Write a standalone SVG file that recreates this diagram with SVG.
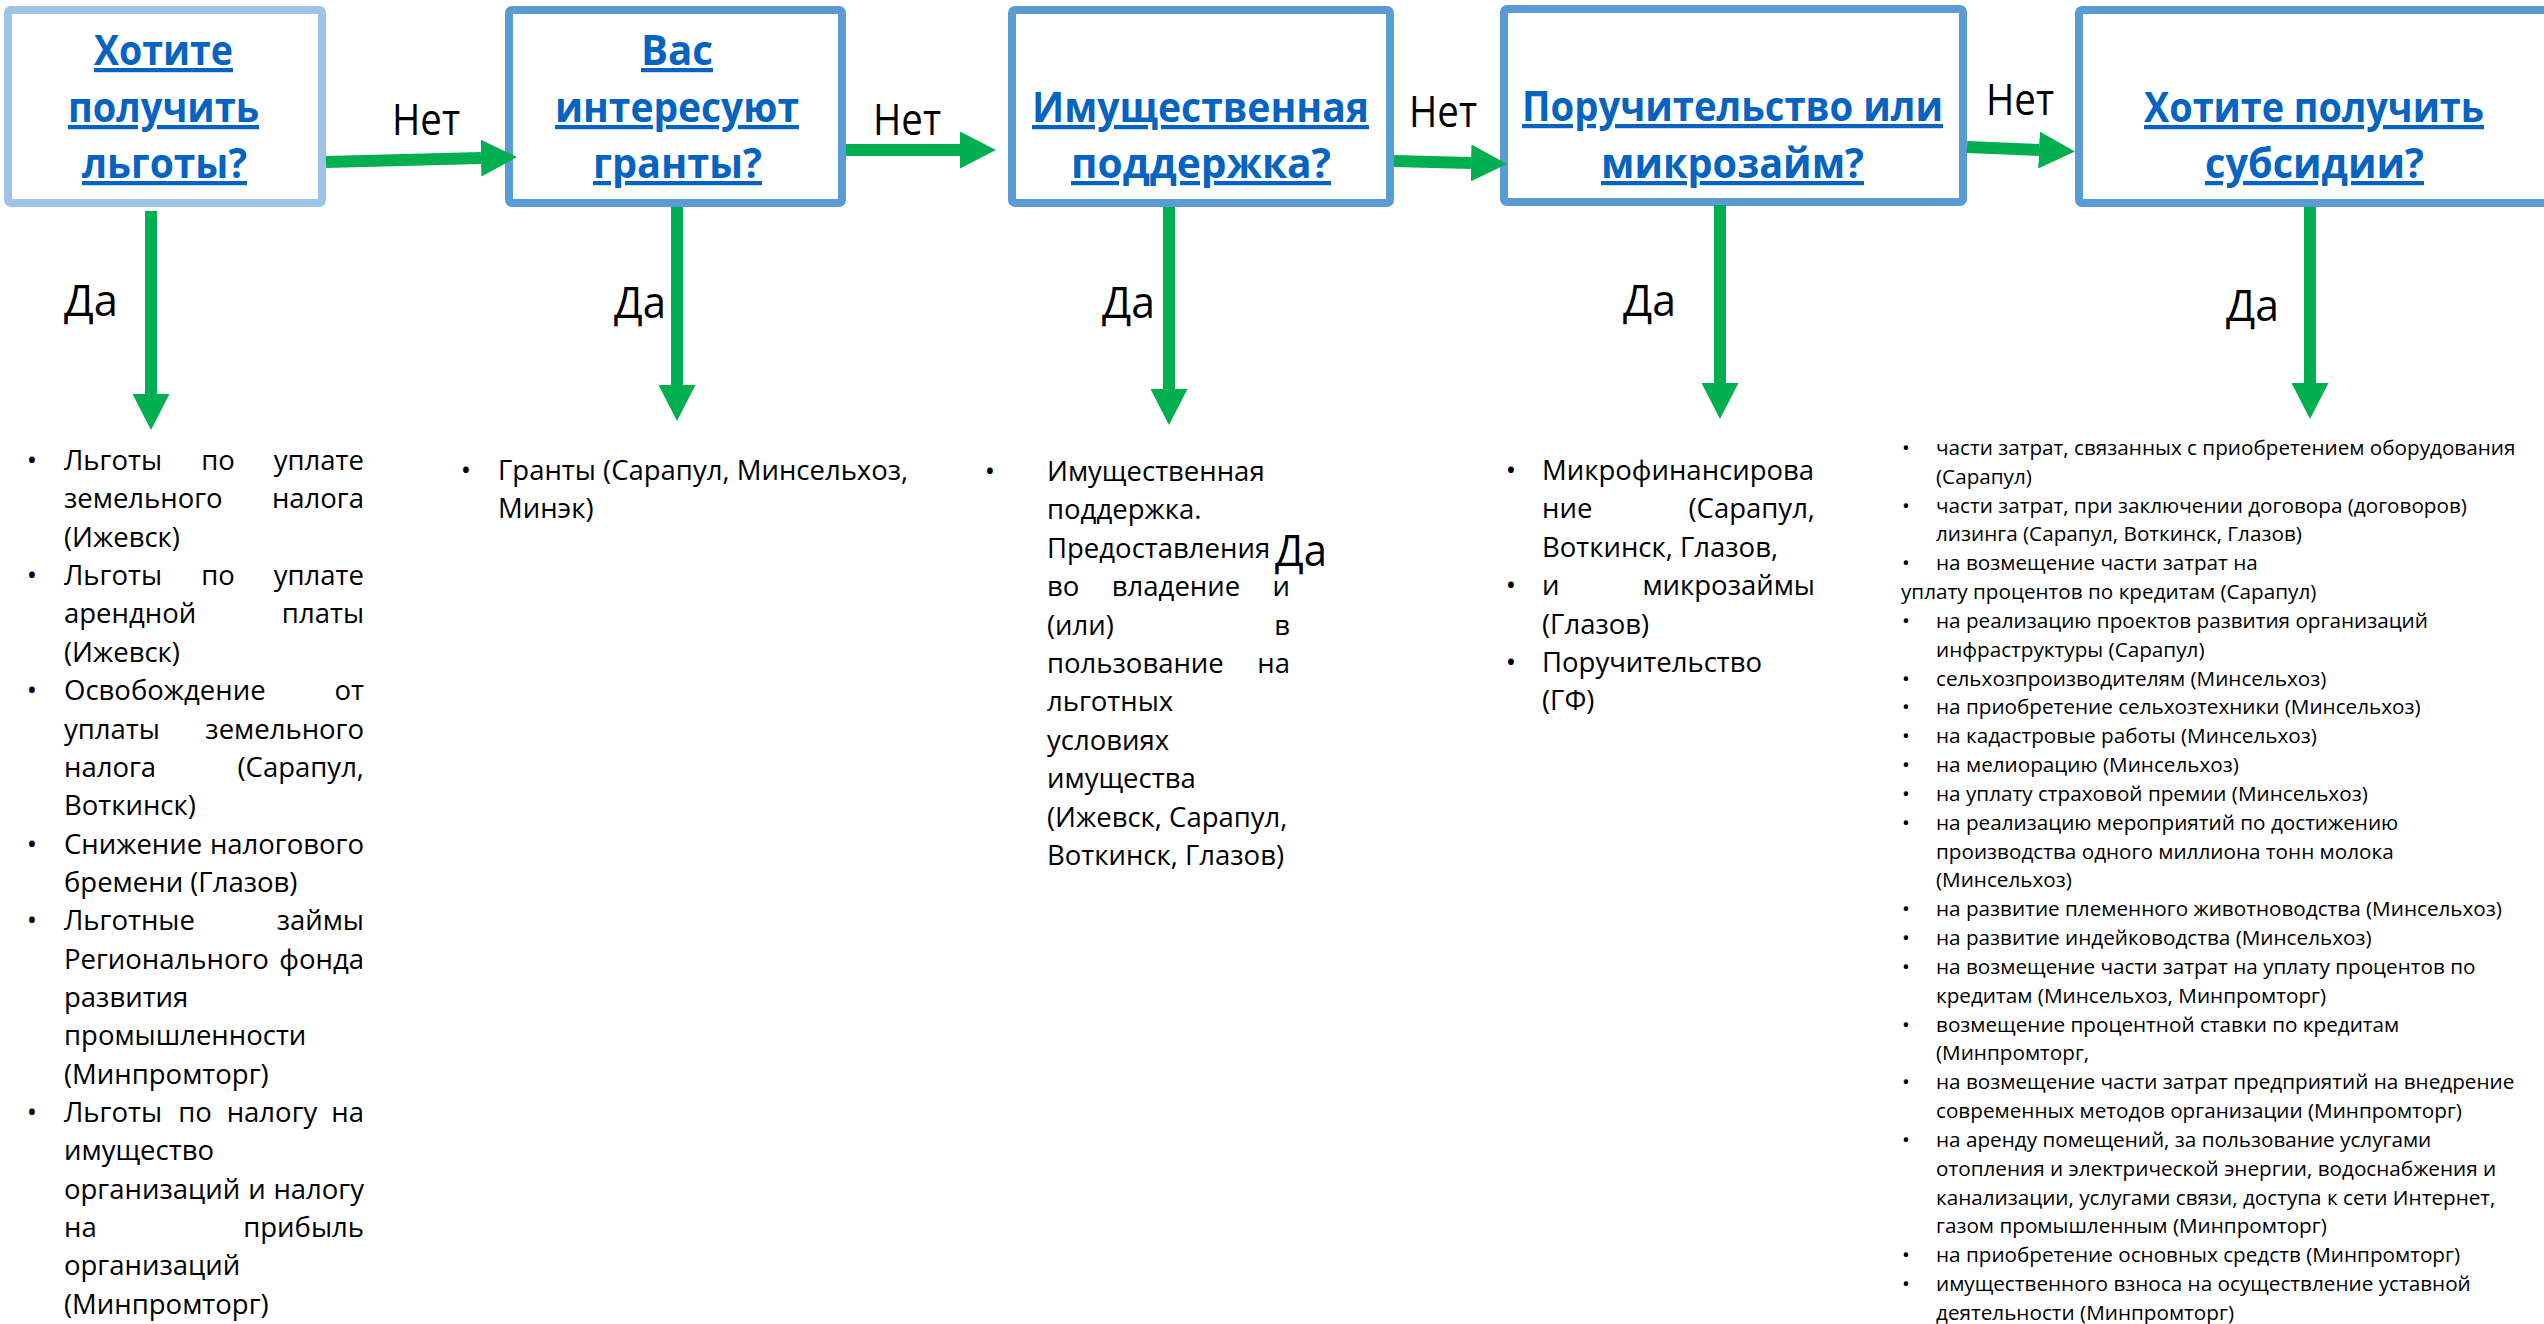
<svg xmlns="http://www.w3.org/2000/svg" width="2544" height="1324" viewBox="0 0 2544 1324">
<style>
.box{fill:#fff;stroke:#5B9BD5;stroke-width:8}
.box.light{stroke:#9DC3E6}
.title{font-family:'Open Sans','DejaVu Sans',sans-serif;font-weight:700;font-size:42px;fill:#0563C1;text-decoration:underline;text-anchor:middle}
.lbl{font-family:'Open Sans','DejaVu Sans',sans-serif;font-size:44px;fill:#000}
.t{font-family:'Open Sans','DejaVu Sans',sans-serif;font-size:27.5px;fill:#000}
.s{font-family:'Open Sans','DejaVu Sans',sans-serif;font-size:20.7px;fill:#000}
.e{text-anchor:end}
.m{text-anchor:middle}
.conn{stroke:#00B050;stroke-width:12;fill:none;marker-end:url(#ah)}
</style>
<defs>
<marker id="ah" markerUnits="userSpaceOnUse" markerWidth="36" markerHeight="37" viewBox="0 0 36 37" refX="0" refY="18.5" orient="auto"><path d="M0,0 L36,18.5 L0,37 z" fill="#00B050"/></marker>
</defs>
<rect width="2544" height="1324" fill="#fff"/>

<g id="node-lgoty">
<rect class="box light" x="8" y="10" width="314" height="193" rx="3"/>
<text class="title" x="163.5" y="65" textLength="139" lengthAdjust="spacingAndGlyphs">Хотите</text>
<text class="title" x="163.5" y="122" textLength="191" lengthAdjust="spacingAndGlyphs">получить</text>
<text class="title" x="164.5" y="178" textLength="165" lengthAdjust="spacingAndGlyphs">льготы?</text>
</g>
<g id="node-granty">
<rect class="box" x="509" y="10" width="333" height="193" rx="3"/>
<text class="title" x="677" y="65" textLength="72" lengthAdjust="spacingAndGlyphs">Вас</text>
<text class="title" x="677" y="122" textLength="244" lengthAdjust="spacingAndGlyphs">интересуют</text>
<text class="title" x="677.5" y="178" textLength="169" lengthAdjust="spacingAndGlyphs">гранты?</text>
</g>
<g id="node-imush">
<rect class="box" x="1012" y="10" width="378" height="193" rx="3"/>
<text class="title" x="1200.5" y="122" textLength="337" lengthAdjust="spacingAndGlyphs">Имущественная</text>
<text class="title" x="1201" y="178" textLength="260" lengthAdjust="spacingAndGlyphs">поддержка?</text>
</g>
<g id="node-poruch">
<rect class="box" x="1504" y="9" width="459" height="193" rx="3"/>
<text class="title" x="1732.5" y="121" textLength="421" lengthAdjust="spacingAndGlyphs">Поручительство или</text>
<text class="title" x="1732.5" y="178" textLength="263" lengthAdjust="spacingAndGlyphs">микрозайм?</text>
</g>
<g id="node-subsidii">
<rect class="box" x="2079" y="10" width="500" height="193" rx="3"/>
<text class="title" x="2314" y="122" textLength="340" lengthAdjust="spacingAndGlyphs">Хотите получить</text>
<text class="title" x="2314.5" y="178" textLength="219" lengthAdjust="spacingAndGlyphs">субсидии?</text>
</g>

<g id="connectors">
<path class="conn" d="M326,162 L481,158"/>
<path class="conn" d="M846,150 L960,150"/>
<path class="conn" d="M1394,161 L1471,163"/>
<path class="conn" d="M1967,147 L2039,150"/>
<path class="conn" d="M151,211 L151,394"/>
<path class="conn" d="M677,207 L677,385"/>
<path class="conn" d="M1169,207 L1169,389"/>
<path class="conn" d="M1720,205 L1720,383"/>
<path class="conn" d="M2310,207 L2310,383"/>
<text class="lbl" x="392" y="135" textLength="68" lengthAdjust="spacingAndGlyphs">Нет</text>
<text class="lbl" x="873" y="135" textLength="68" lengthAdjust="spacingAndGlyphs">Нет</text>
<text class="lbl" x="1409" y="127" textLength="68" lengthAdjust="spacingAndGlyphs">Нет</text>
<text class="lbl" x="1986" y="115" textLength="68" lengthAdjust="spacingAndGlyphs">Нет</text>
<text class="lbl" x="64" y="316" textLength="54" lengthAdjust="spacingAndGlyphs">Да</text>
<text class="lbl" x="614" y="318" textLength="52" lengthAdjust="spacingAndGlyphs">Да</text>
<text class="lbl" x="1102" y="318" textLength="53" lengthAdjust="spacingAndGlyphs">Да</text>
<text class="lbl" x="1623" y="316" textLength="53" lengthAdjust="spacingAndGlyphs">Да</text>
<text class="lbl" x="2226" y="321" textLength="53" lengthAdjust="spacingAndGlyphs">Да</text>
</g>

<g id="list-lgoty">
<text class="t m" x="32" y="470">•</text><text class="t" x="64" y="470">Льготы</text><text class="t m" x="218" y="470">по</text><text class="t e" x="364" y="470">уплате</text>
<text class="t" x="64" y="508">земельного</text><text class="t e" x="364" y="508">налога</text>
<text class="t" x="64" y="547">(Ижевск)</text>
<text class="t m" x="32" y="585">•</text><text class="t" x="64" y="585">Льготы</text><text class="t m" x="218" y="585">по</text><text class="t e" x="364" y="585">уплате</text>
<text class="t" x="64" y="623">арендной</text><text class="t e" x="364" y="623">платы</text>
<text class="t" x="64" y="662">(Ижевск)</text>
<text class="t m" x="32" y="700">•</text><text class="t" x="64" y="700">Освобождение</text><text class="t e" x="364" y="700">от</text>
<text class="t" x="64" y="739">уплаты</text><text class="t e" x="364" y="739">земельного</text>
<text class="t" x="64" y="777">налога</text><text class="t e" x="364" y="777">(Сарапул,</text>
<text class="t" x="64" y="815">Воткинск)</text>
<text class="t m" x="32" y="854">•</text><text class="t" x="64" y="854">Снижение</text><text class="t e" x="364" y="854">налогового</text>
<text class="t" x="64" y="892">бремени (Глазов)</text>
<text class="t m" x="32" y="930">•</text><text class="t" x="64" y="930">Льготные</text><text class="t e" x="364" y="930">займы</text>
<text class="t" x="64" y="969">Регионального</text><text class="t e" x="364" y="969">фонда</text>
<text class="t" x="64" y="1007">развития</text>
<text class="t" x="64" y="1045">промышленности</text>
<text class="t" x="64" y="1084">(Минпромторг)</text>
<text class="t m" x="32" y="1122">•</text><text class="t" x="64" y="1122">Льготы</text><text class="t m" x="195" y="1122">по</text><text class="t m" x="272" y="1122">налогу</text><text class="t e" x="364" y="1122">на</text>
<text class="t" x="64" y="1160">имущество</text>
<text class="t" x="64" y="1199">организаций</text><text class="t m" x="257" y="1199">и</text><text class="t e" x="364" y="1199">налогу</text>
<text class="t" x="64" y="1237">на</text><text class="t e" x="364" y="1237">прибыль</text>
<text class="t" x="64" y="1275">организаций</text>
<text class="t" x="64" y="1314">(Минпромторг)</text>
</g>

<g id="list-granty">
<text class="t m" x="466" y="480">•</text><text class="t" x="498" y="480">Гранты (Сарапул, Минсельхоз,</text>
<text class="t" x="498" y="518">Минэк)</text>
</g>

<g id="list-imush">
<text class="t m" x="990" y="481">•</text><text class="t" x="1047" y="481">Имущественная</text>
<text class="t" x="1047" y="519">поддержка.</text>
<text class="t" x="1047" y="558">Предоставления</text>
<text class="t" x="1047" y="596">во</text><text class="t m" x="1176" y="596">владение</text><text class="t e" x="1290" y="596">и</text>
<text class="t" x="1047" y="635">(или)</text><text class="t e" x="1290" y="635">в</text>
<text class="t" x="1047" y="673">пользование</text><text class="t e" x="1290" y="673">на</text>
<text class="t" x="1047" y="711">льготных</text>
<text class="t" x="1047" y="750">условиях</text>
<text class="t" x="1047" y="788">имущества</text>
<text class="t" x="1047" y="827">(Ижевск, Сарапул,</text>
<text class="t" x="1047" y="865">Воткинск, Глазов)</text>
<text class="lbl" x="1275" y="566" textLength="52" lengthAdjust="spacingAndGlyphs">Да</text>
</g>

<g id="list-poruch">
<text class="t m" x="1511" y="480">•</text><text class="t" x="1542" y="480">Микрофинансирова</text>
<text class="t" x="1542" y="518">ние</text><text class="t e" x="1815" y="518">(Сарапул,</text>
<text class="t" x="1542" y="557">Воткинск, Глазов,</text>
<text class="t m" x="1511" y="595">•</text><text class="t" x="1542" y="595">и</text><text class="t e" x="1815" y="595">микрозаймы</text>
<text class="t" x="1542" y="634">(Глазов)</text>
<text class="t m" x="1511" y="672">•</text><text class="t" x="1542" y="672">Поручительство</text>
<text class="t" x="1542" y="710">(ГФ)</text>
</g>

<g id="list-subsidii">
<text class="s m" x="1906" y="455">•</text><text class="s" x="1936" y="455">части затрат, связанных с приобретением оборудования</text>
<text class="s" x="1936" y="484">(Сарапул)</text>
<text class="s m" x="1906" y="513">•</text><text class="s" x="1936" y="513">части затрат, при заключении договора (договоров)</text>
<text class="s" x="1936" y="541">лизинга (Сарапул, Воткинск, Глазов)</text>
<text class="s m" x="1906" y="570">•</text><text class="s" x="1936" y="570">на возмещение части затрат на</text>
<text class="s" x="1901" y="599">уплату процентов по кредитам (Сарапул)</text>
<text class="s m" x="1906" y="628">•</text><text class="s" x="1936" y="628">на реализацию проектов развития организаций</text>
<text class="s" x="1936" y="657">инфраструктуры (Сарапул)</text>
<text class="s m" x="1906" y="686">•</text><text class="s" x="1936" y="686">сельхозпроизводителям (Минсельхоз)</text>
<text class="s m" x="1906" y="714">•</text><text class="s" x="1936" y="714">на приобретение сельхозтехники (Минсельхоз)</text>
<text class="s m" x="1906" y="743">•</text><text class="s" x="1936" y="743">на кадастровые работы (Минсельхоз)</text>
<text class="s m" x="1906" y="772">•</text><text class="s" x="1936" y="772">на мелиорацию (Минсельхоз)</text>
<text class="s m" x="1906" y="801">•</text><text class="s" x="1936" y="801">на уплату страховой премии (Минсельхоз)</text>
<text class="s m" x="1906" y="830">•</text><text class="s" x="1936" y="830">на реализацию мероприятий по достижению</text>
<text class="s" x="1936" y="859">производства одного миллиона тонн молока</text>
<text class="s" x="1936" y="887">(Минсельхоз)</text>
<text class="s m" x="1906" y="916">•</text><text class="s" x="1936" y="916">на развитие племенного животноводства (Минсельхоз)</text>
<text class="s m" x="1906" y="945">•</text><text class="s" x="1936" y="945">на развитие индейководства (Минсельхоз)</text>
<text class="s m" x="1906" y="974">•</text><text class="s" x="1936" y="974">на возмещение части затрат на уплату процентов по</text>
<text class="s" x="1936" y="1003">кредитам (Минсельхоз, Минпромторг)</text>
<text class="s m" x="1906" y="1032">•</text><text class="s" x="1936" y="1032">возмещение процентной ставки по кредитам</text>
<text class="s" x="1936" y="1060">(Минпромторг,</text>
<text class="s m" x="1906" y="1089">•</text><text class="s" x="1936" y="1089">на возмещение части затрат предприятий на внедрение</text>
<text class="s" x="1936" y="1118">современных методов организации (Минпромторг)</text>
<text class="s m" x="1906" y="1147">•</text><text class="s" x="1936" y="1147">на аренду помещений, за пользование услугами</text>
<text class="s" x="1936" y="1176">отопления и электрической энергии, водоснабжения и</text>
<text class="s" x="1936" y="1205">канализации, услугами связи, доступа к сети Интернет,</text>
<text class="s" x="1936" y="1233">газом промышленным (Минпромторг)</text>
<text class="s m" x="1906" y="1262">•</text><text class="s" x="1936" y="1262">на приобретение основных средств (Минпромторг)</text>
<text class="s m" x="1906" y="1291">•</text><text class="s" x="1936" y="1291">имущественного взноса на осуществление уставной</text>
<text class="s" x="1936" y="1320">деятельности (Минпромторг)</text>
</g>
</svg>
